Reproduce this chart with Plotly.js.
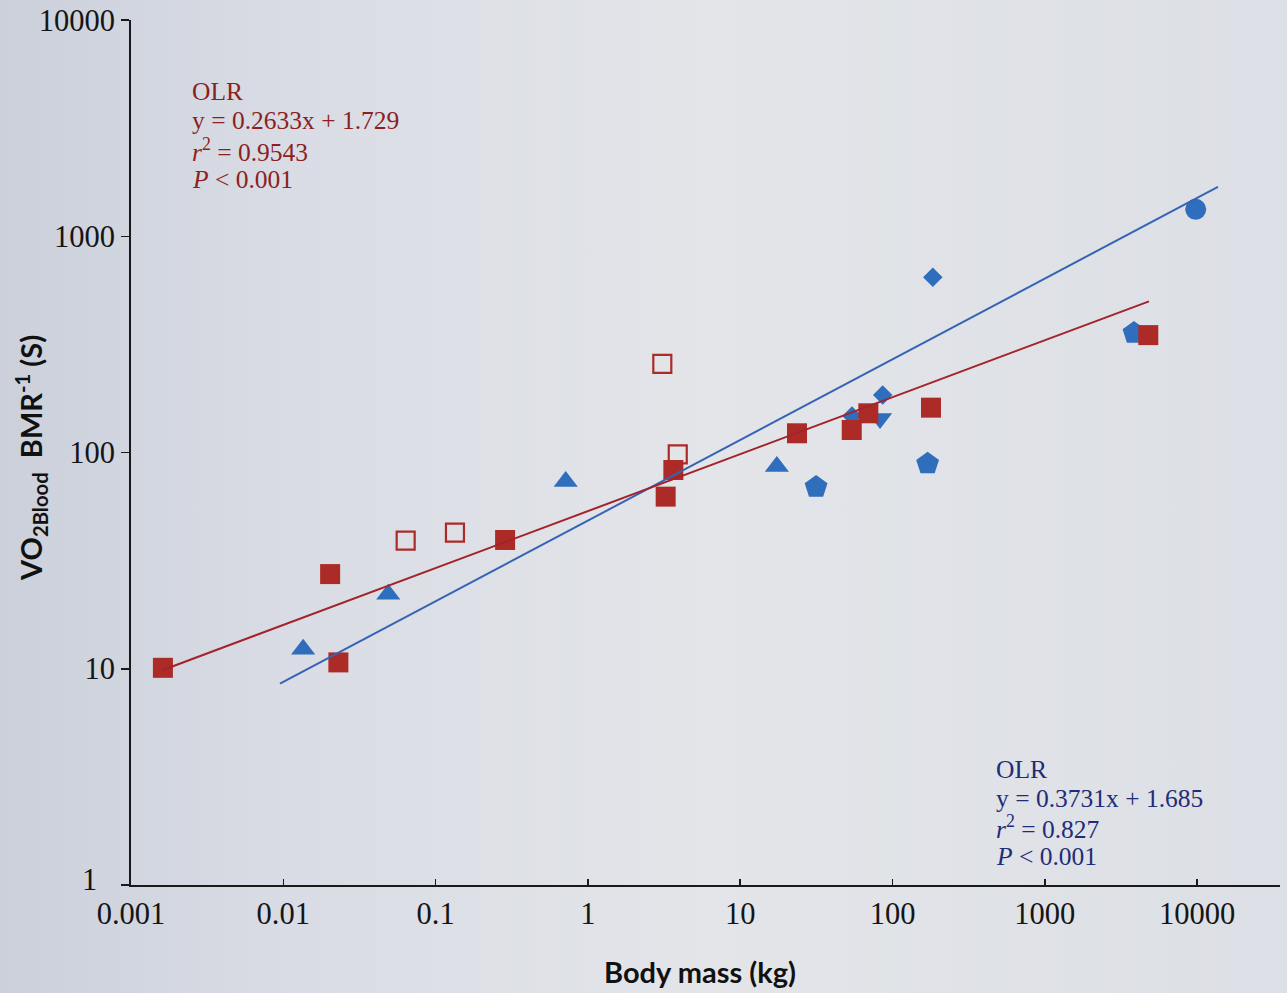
<!DOCTYPE html>
<html>
<head>
<meta charset="utf-8">
<script src="https://cdn.plot.ly/plotly-3.0.1.min.js"></script>
<style>
  html, body { margin: 0; padding: 0; background: #dfe2e7; }
  #chart { width: 1287px; height: 993px; }
</style>
</head>
<body>
<div id="chart"></div>
<script>
// Body mass (kg) against blood O2 store relative to BMR (s), log-log.

// Terrestrial mammals (filled squares)
const terrestrialMass = [0.00162, 0.0203, 0.0230, 0.286, 3.24, 3.64, 23.6, 54.0, 69.4, 179, 4780];
const terrestrialVO2 = [10.1, 27.4, 10.7, 39.4, 62.5, 83.0, 122.7, 127.1, 151.8, 161.2, 349];

// Terrestrial mammals, open squares
const openMass = [0.0636, 0.134, 3.08, 3.89];
const openVO2 = [39.1, 42.6, 257, 98.1];

// Diving mammals, one marker shape per group
const triUpMass = [0.0135, 0.0489, 0.715, 17.4];
const triUpVO2 = [12.3, 22.1, 73.4, 86.1];
const triDownMass = [82.8];
const triDownVO2 = [143.6];
const diamondMass = [184, 86.2, 54.2];
const diamondVO2 = [646, 184.5, 147.5];
const pentagonMass = [31.5, 170, 3850];
const pentagonVO2 = [69.3, 88.8, 357];
const circleMass = [9790];
const circleVO2 = [1332];

// OLR fits on log10 scales: log10(y) = slope * log10(x) + intercept
const fitName = ['terrestrial', 'diving'];
const fitSlope = [0.2633, 0.3731];
const fitIntercept = [1.729, 1.685];
const fitMassStart = [0.00162, 0.00951];
const fitMassEnd = [4830, 13700];

// Axis ticks
const xTickVals = [0.001, 0.01, 0.1, 1, 10, 100, 1000, 10000];
const xTickText = ['0.001', '0.01', '0.1', '1', '10', '100', '1000', '10000'];
const yTickVals = [1, 10, 100, 1000, 10000];
const yTickText = ['1', '10', '100', '1000', '10000'];

// Fit statistics shown as text
const terrLines = ['OLR', 'y = 0.2633x + 1.729', '<i>r</i><sup>2</sup> = 0.9543', '<i>P</i> &lt; 0.001'];
const diveLines = ['OLR', 'y = 0.3731x + 1.685', '<i>r</i><sup>2</sup> = 0.827', '<i>P</i> &lt; 0.001'];

const RED = '#ac2b27';
const RED_LINE = '#a3232b';
const BLUE = '#2f6dbd';
const BLUE_LINE = '#3563b5';

function scatter(xs, ys, symbol, color, size, extra) {
  return Object.assign({
    type: 'scatter', mode: 'markers', x: xs, y: ys,
    hoverinfo: 'skip', showlegend: false,
    marker: { symbol: symbol, color: color, size: size, line: { width: 0 } }
  }, extra || {});
}

function fitLine(i, color) {
  const xs = [fitMassStart[i], fitMassEnd[i]];
  const ys = xs.map(v => Math.pow(10, fitSlope[i] * Math.log10(v) + fitIntercept[i]));
  return {
    type: 'scatter', mode: 'lines', x: xs, y: ys, name: fitName[i],
    hoverinfo: 'skip', showlegend: false,
    line: { color: color, width: 2 }
  };
}

const traces = [
  scatter(pentagonMass, pentagonVO2, 'pentagon', BLUE, 24),
  scatter(triUpMass, triUpVO2, 'triangle-up', BLUE, 21),
  scatter(triDownMass, triDownVO2, 'triangle-down', BLUE, 21),
  scatter(diamondMass, diamondVO2, 'diamond', BLUE, 15),
  scatter(circleMass, circleVO2, 'circle', BLUE, 21),
  scatter(terrestrialMass, terrestrialVO2, 'square', RED, 20),
  scatter(openMass, openVO2, 'square-open', RED, 18,
    { marker: { symbol: 'square-open', color: RED, size: 18, line: { width: 2.2, color: RED } } }),
  fitLine(1, BLUE_LINE),
  fitLine(0, RED_LINE)
];

// Plot area in pixels, used to place text blocks
const M = { l: 131, r: 7, t: 20, b: 108 };
const W = 1287, H = 993;
const PW = W - M.l - M.r, PH = H - M.t - M.b;
const px2x = p => (p - M.l) / PW;
const py2y = p => (H - M.b - p) / PH;

const serif = '"Liberation Serif", "Times New Roman", serif';
const tickFont = { family: serif, size: 30.5, color: '#151515' };

function textBlock(lines, left, top, step, color) {
  return lines.map((t, k) => ({
    text: t, xref: 'paper', yref: 'paper',
    x: px2x(left), y: py2y(top + k * step),
    xanchor: 'left', yanchor: 'middle', showarrow: false, align: 'left',
    font: { family: serif, size: 25.5, color: color }
  }));
}

const annotations = []
  .concat(textBlock(terrLines, 190, 91, 29.5, '#8c1f22'))
  .concat(textBlock(diveLines, 994, 769, 29.3, '#1f2c78'))
  .concat([
    // the lowest y label sits up-left of the corner, clear of the first x label
    {
      text: yTickText[0], xref: 'paper', yref: 'y',
      x: px2x(99), y: Math.log10(yTickVals[0]), yshift: 5,
      xanchor: 'right', yanchor: 'middle', showarrow: false,
      font: tickFont
    },
    {
      text: 'Body mass (kg)', xref: 'paper', yref: 'paper',
      x: px2x(700), y: py2y(971), xanchor: 'center', yanchor: 'middle', showarrow: false,
      font: { family: 'Lato, "Open Sans", sans-serif', size: 29, color: '#111', weight: 'bold' }
    },
    {
      text: 'VO<sub>2Blood</sub>  BMR<sup>-1</sup> (S)', xref: 'paper', yref: 'paper',
      x: px2x(31), y: py2y(458), xanchor: 'center', yanchor: 'middle', showarrow: false,
      textangle: -90,
      font: { family: 'Lato, "Open Sans", sans-serif', size: 29, color: '#111', weight: 'bold' }
    }
  ]);

// Soft page shading behind the chart
const shadeSvg = '<svg xmlns="http://www.w3.org/2000/svg" width="1287" height="993">' +
  '<defs><linearGradient id="g" x1="0" y1="0" x2="1" y2="0">' +
  '<stop offset="0" stop-color="#cbd0db"/><stop offset="0.22" stop-color="#d9dce4"/>' +
  '<stop offset="0.55" stop-color="#e3e5e9"/><stop offset="1" stop-color="#dcdfe5"/>' +
  '</linearGradient></defs><rect width="1287" height="993" fill="url(#g)"/></svg>';

const layout = {
  width: W, height: H,
  margin: M,
  paper_bgcolor: '#dfe2e7',
  plot_bgcolor: 'rgba(0,0,0,0)',
  showlegend: false,
  images: [{
    source: 'data:image/svg+xml;charset=utf-8,' + encodeURIComponent(shadeSvg),
    xref: 'paper', yref: 'paper',
    x: -M.l / PW, y: 1 + M.t / PH,
    sizex: W / PW, sizey: H / PH,
    xanchor: 'left', yanchor: 'top', sizing: 'stretch', layer: 'below'
  }],
  xaxis: {
    type: 'log', range: [-3, -3 + PW / 152.3],
    showgrid: false, zeroline: false,
    showline: true, linecolor: '#1a1a1a', linewidth: 2,
    ticks: 'inside', ticklen: 6, tickwidth: 1.5, tickcolor: '#1a1a1a',
    tickmode: 'array', tickvals: xTickVals, ticktext: xTickText,
    tickfont: tickFont
  },
  yaxis: {
    type: 'log', range: [0, 4],
    showgrid: false, zeroline: false,
    showline: true, linecolor: '#1a1a1a', linewidth: 2,
    ticks: 'outside', ticklen: 8, tickwidth: 1.5, tickcolor: '#1a1a1a',
    tickmode: 'array', tickvals: yTickVals,
    ticktext: yTickText.map((t, i) => (i === 0 ? '' : t)),
    tickfont: tickFont
  },
  annotations: annotations
};

Plotly.newPlot('chart', traces, layout, { staticPlot: true, displayModeBar: false });
</script>
</body>
</html>
